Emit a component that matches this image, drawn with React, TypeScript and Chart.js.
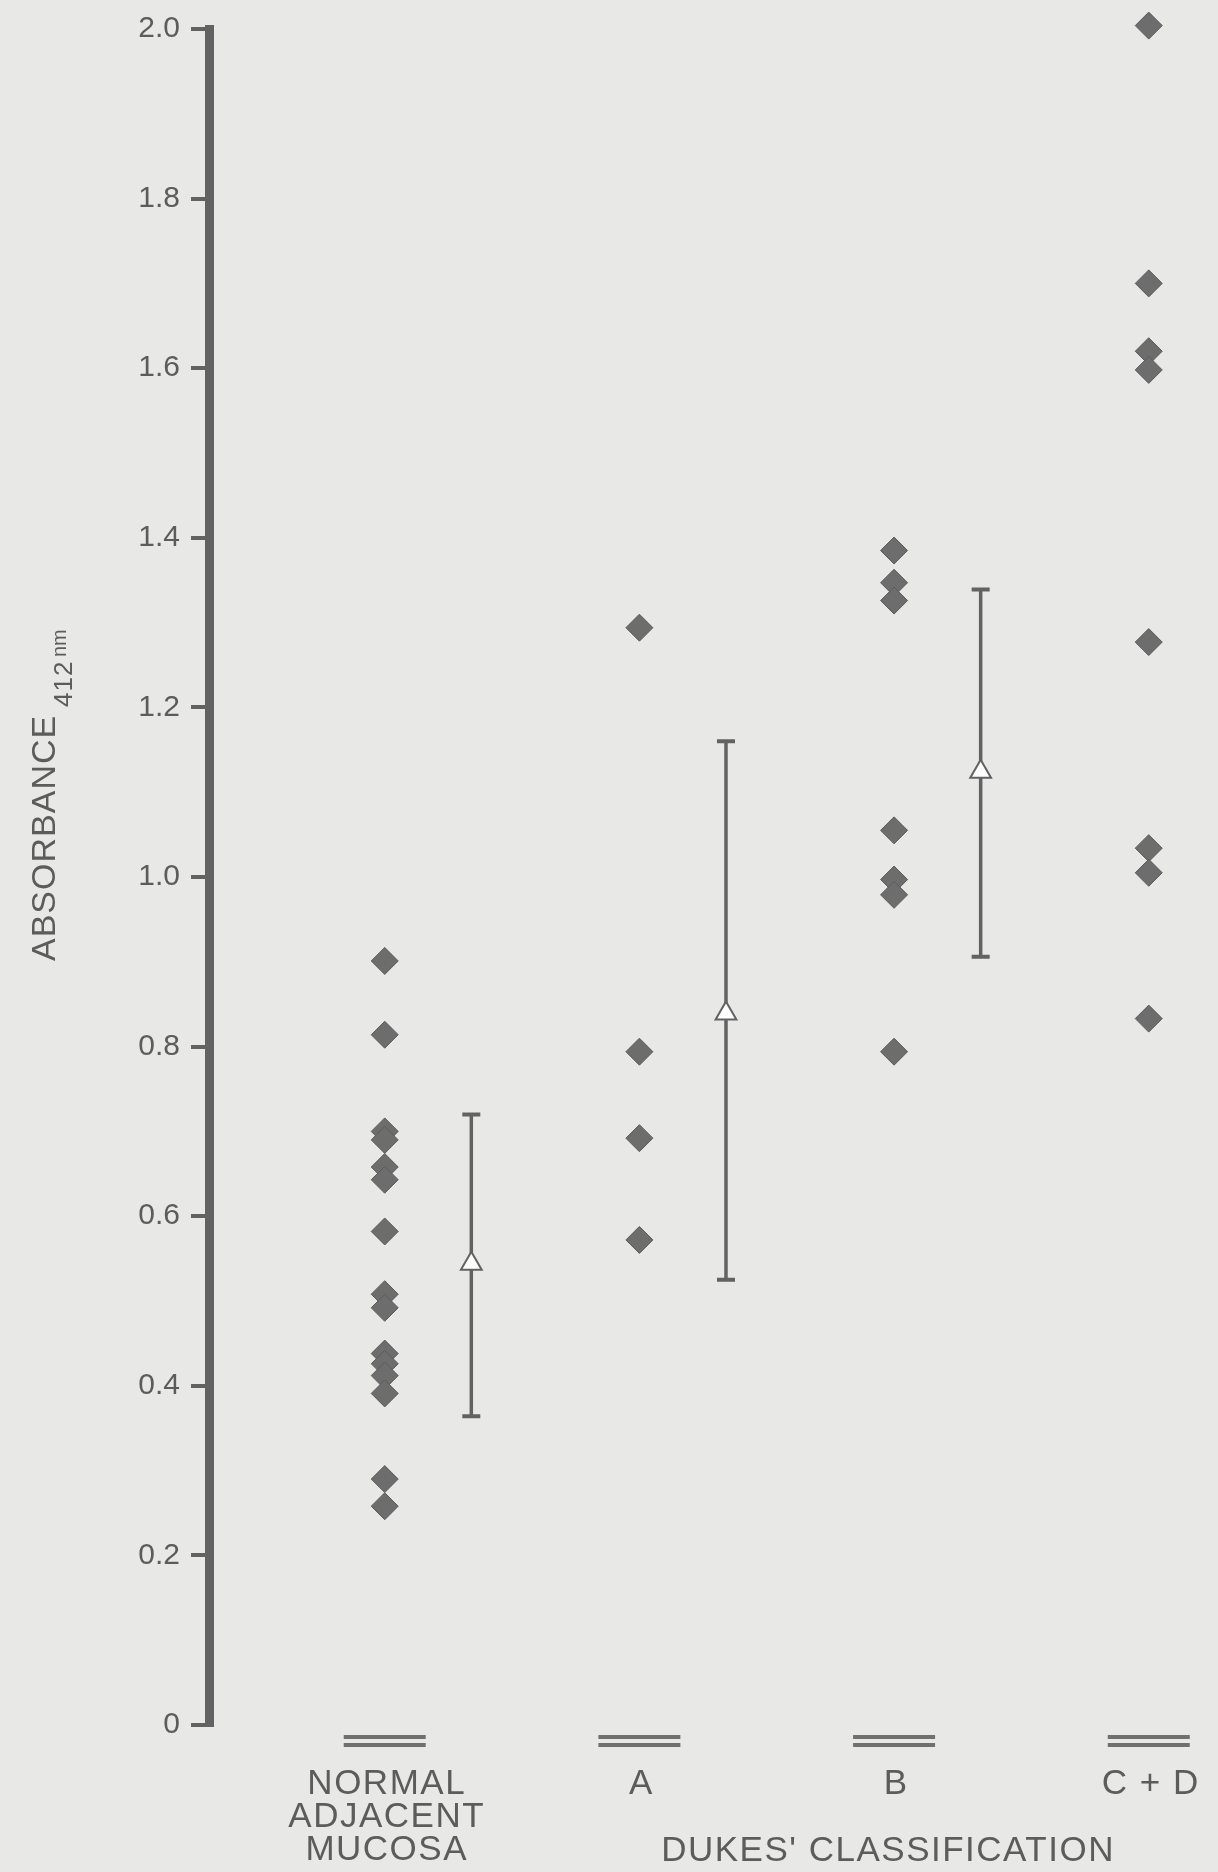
import React, { useEffect, useRef } from 'react';
import { Chart, registerables } from 'chart.js';

Chart.register(...registerables);

// ---- data ----
const groupLabels: string[][] = [['NORMAL', 'ADJACENT', 'MUCOSA'], ['A'], ['B'], ['C + D']];
const normalValues = [0.901, 0.814, 0.70, 0.69, 0.658, 0.643, 0.582, 0.508, 0.492, 0.438, 0.426, 0.412, 0.391, 0.290, 0.258];
const dukesAValues = [1.294, 0.794, 0.692, 0.572];
const dukesBValues = [1.385, 1.347, 1.326, 1.055, 0.997, 0.979, 0.794];
const dukesCDValues = [2.02, 2.004, 1.70, 1.62, 1.598, 1.277, 1.034, 1.005, 0.833];
const meanValues = [0.544, 0.839, 1.124];
const errorHigh = [0.72, 1.16, 1.339];
const errorLow = [0.364, 0.525, 0.906];
const yTickValues = [0, 0.2, 0.4, 0.6, 0.8, 1.0, 1.2, 1.4, 1.6, 1.8, 2.0];
const xAxisTitle = "DUKES' CLASSIFICATION";
const yAxisTitle = 'ABSORBANCE';
const yAxisSub = '412';
const yAxisUnit = 'nm';

// ---- style ----
const BG = '#e8e8e7';
const INK = '#5c5c5c';
const AXIS = '#626262';
const DIAMOND = '#6d6d6d';
const FONT = "'Liberation Sans', Arial, Helvetica, sans-serif";
const MEAN_OFFSET = 0.34;

const allGroups = [normalValues, dukesAValues, dukesBValues, dukesCDValues];

export default function App() {
  const ref = useRef<HTMLCanvasElement | null>(null);

  useEffect(() => {
    if (!ref.current) return;

    const bgPlugin = {
      id: 'bg',
      beforeDraw(chart: any) {
        const ctx = chart.ctx;
        ctx.save();
        ctx.fillStyle = BG;
        ctx.fillRect(0, 0, chart.width, chart.height);
        ctx.restore();
      },
    };

    const errorBarPlugin = {
      id: 'errorBars',
      beforeDatasetsDraw(chart: any) {
        const ctx = chart.ctx;
        const xs = chart.scales.x;
        const ys = chart.scales.y;
        ctx.save();
        ctx.strokeStyle = AXIS;
        ctx.lineCap = 'butt';
        meanValues.forEach((_, i) => {
          const px = xs.getPixelForValue(i + MEAN_OFFSET);
          const yTop = ys.getPixelForValue(errorHigh[i]);
          const yBot = ys.getPixelForValue(errorLow[i]);
          ctx.lineWidth = 3.5;
          ctx.beginPath();
          ctx.moveTo(px, yTop);
          ctx.lineTo(px, yBot);
          ctx.stroke();
          ctx.lineWidth = 4;
          ctx.beginPath();
          ctx.moveTo(px - 9, yTop);
          ctx.lineTo(px + 9, yTop);
          ctx.moveTo(px - 9, yBot);
          ctx.lineTo(px + 9, yBot);
          ctx.stroke();
        });
        ctx.restore();
      },
    };

    const labelsPlugin = {
      id: 'labels',
      afterDraw(chart: any) {
        const ctx = chart.ctx;
        const xs = chart.scales.x;
        const bottom = chart.chartArea.bottom;
        ctx.save();
        // double bars at base of each column
        ctx.strokeStyle = '#707070';
        ctx.lineWidth = 4;
        groupLabels.forEach((_, i) => {
          const px = xs.getPixelForValue(i);
          ctx.beginPath();
          ctx.moveTo(px - 41, bottom + 12);
          ctx.lineTo(px + 41, bottom + 12);
          ctx.moveTo(px - 41, bottom + 20);
          ctx.lineTo(px + 41, bottom + 20);
          ctx.stroke();
        });
        // category labels
        ctx.fillStyle = INK;
        ctx.font = `35px ${FONT}`;
        ctx.textAlign = 'center';
        ctx.textBaseline = 'alphabetic';
        (ctx as any).letterSpacing = '1.5px';
        groupLabels.forEach((lines, i) => {
          const px = xs.getPixelForValue(i) + 2;
          lines.forEach((ln, k) => {
            ctx.fillText(ln, px, bottom + 69 + k * 33);
          });
        });
        const mid = (xs.getPixelForValue(1) + xs.getPixelForValue(3)) / 2 - 6;
        ctx.fillText(xAxisTitle, mid, bottom + 136);

        // y axis title (rotated)
        ctx.translate(55, 961);
        ctx.rotate(-Math.PI / 2);
        ctx.textAlign = 'left';
        ctx.font = `34px ${FONT}`;
        (ctx as any).letterSpacing = '1px';
        ctx.fillText(yAxisTitle, 0, 0);
        ctx.font = `26px ${FONT}`;
        (ctx as any).letterSpacing = '1px';
        ctx.fillText(yAxisSub, 254, 17);
        ctx.font = `20px ${FONT}`;
        (ctx as any).letterSpacing = '0px';
        ctx.fillText(yAxisUnit, 304, 11);
        ctx.restore();
      },
    };

    const diamondSets = allGroups.map((vals, i) => ({
      label: groupLabels[i].join(' '),
      data: vals.map((v) => ({ x: i, y: v })),
      pointStyle: 'rectRot',
      pointRadius: 13.5,
      backgroundColor: DIAMOND,
      borderColor: '#5c5c5c',
      borderWidth: 1,
      clip: false,
    }));

    const meanSet = {
      label: 'mean',
      data: meanValues.map((v, i) => ({ x: i + MEAN_OFFSET, y: v })),
      pointStyle: 'triangle',
      pointRadius: 12,
      backgroundColor: '#ffffff',
      borderColor: AXIS,
      borderWidth: 2,
      clip: false,
    };

    const chart = new Chart(ref.current, {
      type: 'scatter',
      data: { datasets: [...diamondSets, meanSet] as any },
      plugins: [bgPlugin, errorBarPlugin, labelsPlugin],
      options: {
        animation: false,
        responsive: false,
        devicePixelRatio: 1,
        events: [],
        layout: { padding: { top: 27, bottom: 147, left: 0, right: 8 } },
        plugins: { legend: { display: false }, tooltip: { enabled: false } },
        scales: {
          x: {
            type: 'linear',
            display: false,
            min: -0.69,
            max: 3.215,
          },
          y: {
            type: 'linear',
            min: 0,
            max: 2.0,
            afterFit: (scale: any) => {
              scale.width = 209;
            },
            afterBuildTicks: (scale: any) => {
              scale.ticks = yTickValues.map((v) => ({ value: v }));
            },
            ticks: {
              padding: 11,
              color: INK,
              font: { family: FONT, size: 30 },
              autoSkip: false,
              callback: (v: any) => (Number(v) === 0 ? '0' : Number(v).toFixed(1)),
            },
            grid: {
              drawOnChartArea: false,
              drawTicks: true,
              tickLength: 18,
              lineWidth: 4,
              color: AXIS,
            },
            border: { display: true, width: 9, color: AXIS },
          },
        },
      } as any,
    });

    return () => chart.destroy();
  }, []);

  return (
    <div style={{ position: 'absolute', left: 0, top: 0, width: 1218, height: 1872, background: BG }}>
      <canvas ref={ref} width={1218} height={1872} style={{ display: 'block', width: 1218, height: 1872 }} />
    </div>
  );
}
